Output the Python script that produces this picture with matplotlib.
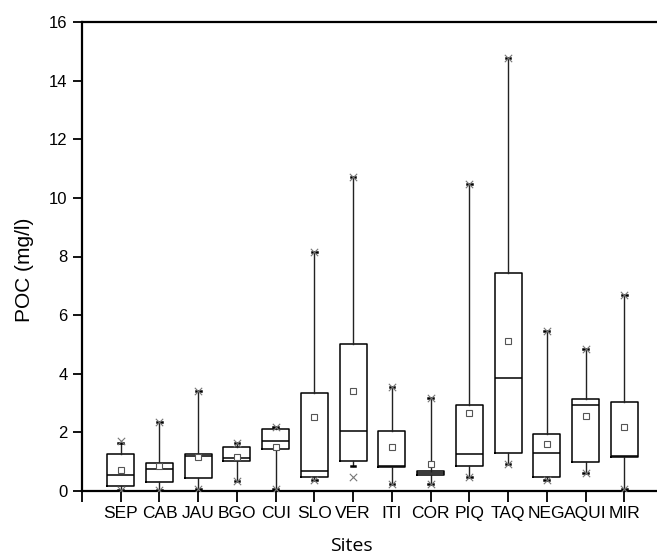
import numpy as np
import matplotlib.pyplot as plt

sites = ['SEP', 'CAB', 'JAU', 'BGO', 'CUI', 'SLO', 'VER', 'ITI', 'COR', 'PIQ',
         'TAQ', 'NEG', 'AQUI', 'MIR']
q1 = [0.17, 0.31, 0.45, 1.03, 1.43, 0.49, 1.02, 0.83, 0.54, 0.86, 1.31, 0.49, 0.98, 1.17]
med = [0.56, 0.74, 1.19, 1.13, 1.71, 0.67, 2.06, 0.86, 0.60, 1.26, 3.84, 1.31, 2.93, 1.20]
q3 = [1.26, 0.95, 1.26, 1.50, 2.12, 3.36, 5.02, 2.06, 0.67, 2.93, 7.45, 1.96, 3.14, 3.05]
means = [0.73, 0.86, 1.16, 1.15, 1.51, 2.51, 3.42, 1.51, 0.93, 2.66, 5.13, 1.61, 2.56, 2.18]
whislo = [0.05, 0.05, 0.08, 0.35, 0.08, 0.39, 0.85, 0.25, 0.23, 0.48, 0.91, 0.36, 0.63, 0.08]
whishi = [1.65, 2.37, 3.41, 1.65, 2.18, 8.15, 10.71, 3.56, 3.17, 10.47, 14.77, 5.45, 4.83, 6.69]
# 1% / 99% markers (x)
p_lo = [0.02, 0.02, 0.08, 0.35, 0.08, 0.39, 0.48, 0.25, 0.23, 0.48, 0.91, 0.36, 0.63, 0.08]
p_hi = [1.70, 2.37, 3.41, 1.65, 2.18, 8.15, 10.71, 3.56, 3.17, 10.47, 14.77, 5.45, 4.83, 6.69]

plt.rcParams['font.family'] = ['Liberation Sans', 'DejaVu Sans']

stats = []
for i in range(len(sites)):
    stats.append({'label': sites[i], 'q1': q1[i], 'med': med[i], 'q3': q3[i],
                  'mean': means[i], 'whislo': whislo[i], 'whishi': whishi[i],
                  'fliers': []})

pos = np.arange(1, len(sites) + 1)

fig = plt.figure(figsize=(6.57, 5.54), dpi=100)
ax = fig.add_axes([82/657, 63/554, (663-82)/657, (491-22)/554])

lw = 1.1
ax.bxp(stats, positions=pos, widths=0.7, showmeans=True, capwidths=0.12,
       boxprops=dict(color='black', linewidth=lw),
       medianprops=dict(color='black', linewidth=lw),
       whiskerprops=dict(color='#222222', linewidth=1.0),
       capprops=dict(color='black', linewidth=1.8),
       meanprops=dict(marker='s', markerfacecolor='white', markeredgecolor='#555555',
                      markersize=5, markeredgewidth=0.8))
ax.scatter(pos, p_hi, marker='x', color='#777777', s=28, linewidths=0.8, zorder=4)
ax.scatter(pos, p_lo, marker='x', color='#777777', s=28, linewidths=0.8, zorder=4)

ax.set_xlim(0, 15)
ax.set_ylim(0, 16)
ax.set_xticks(np.arange(0, 16))
ax.set_xticklabels([''] + sites + [''])
ax.set_yticks(np.arange(0, 17, 2))

for s in ax.spines.values():
    s.set_linewidth(1.6)
ax.tick_params(axis='x', direction='out', length=8, width=1.3, pad=3, labelsize=12.5)
ax.tick_params(axis='y', direction='out', length=6.5, width=1.3, pad=4, labelsize=12)

fig.text(25/657, 1 - 270/554, 'POC (mg/l)', rotation=90, ha='center', va='center',
         fontsize=15)
fig.text(351/657, (554-551)/554, 'Sites', ha='center', va='baseline',
         fontsize=14, family=['Open Sans', 'DejaVu Sans'])

fig.savefig('out.png', dpi=100)
